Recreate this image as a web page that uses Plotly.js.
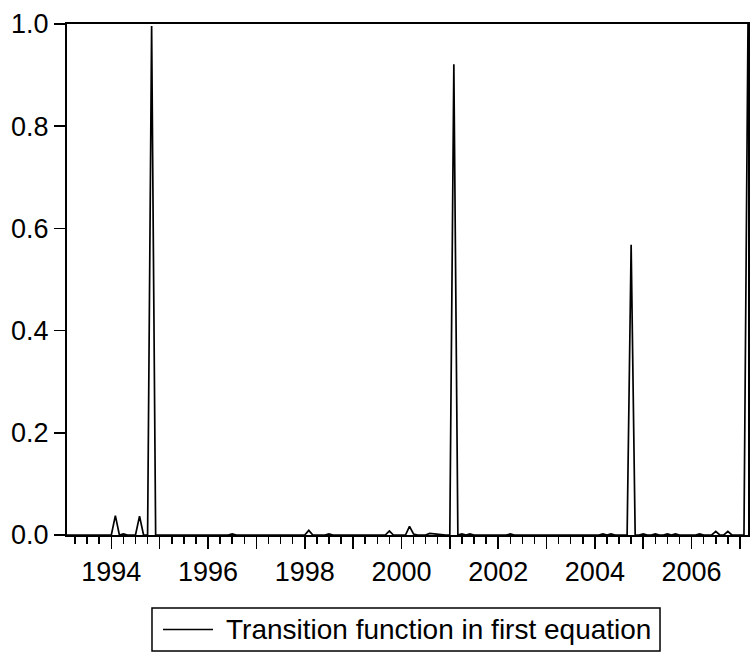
<!DOCTYPE html>
<html>
<head>
<meta charset="utf-8">
<script src="https://cdn.plot.ly/plotly-3.0.1.min.js"></script>
<style>html,body{margin:0;padding:0;background:#fff;}#chart{width:751px;height:656px;}</style>
</head>
<body>
<div id="chart"></div>
<script>
// Monthly observations, 1993M02 .. 2007M03
var startYear = 1993;
var startMonth = 2;
var seriesName = 'Transition function in first equation';
var values = [
  /*1993 M02-M12*/ 0,0,0,0,0,0,0,0,0,0,0,
  /*1994*/ 0,0.038,0,0.002,0,0,0,0.037,0,0,0.996,0,
  /*1995*/ 0,0,0,0,0,0,0,0,0,0,0,0,
  /*1996*/ 0,0,0,0,0,0,0.002,0,0,0,0,0,
  /*1997*/ 0,0,0,0,0,0,0,0,0,0.001,0,0,
  /*1998*/ 0,0.009,0,0,0,0,0.002,0,0,0,0,0,
  /*1999*/ 0,0,0,0,0,0,0,0,0,0.008,0,0,
  /*2000*/ 0,0,0.017,0.002,0,0,0,0.003,0.002,0.001,0,0,
  /*2001*/ 0,0.921,0,0.002,0,0.002,0,0,0,0,0,0,
  /*2002*/ 0.001,0,0,0.002,0,0,0,0,0,0,0,0,
  /*2003*/ 0,0,0,0,0,0,0,0,0,0,0,0,
  /*2004*/ 0,0,0.002,0,0.002,0,0,0,0,0.568,0,0,
  /*2005*/ 0.002,0,0,0.002,0,0,0.002,0,0.002,0,0,0,
  /*2006*/ 0,0,0.002,0,0,0,0.007,0,0,0.007,0,0,
  /*2007 M01-M03*/ 0,0,1.0
];
var yearTicks = [1993,1994,1995,1996,1997,1998,1999,2000,2001,2002,2003,2004,2005,2006,2007];
var yearLabels = ['','1994','','1996','','1998','','2000','','2002','','2004','','2006',''];

var x = [];
for (var i = 0; i < values.length; i++) {
  var m = (startMonth - 1) + i;
  x.push(startYear + Math.floor(m / 12) + (m % 12) / 12);
}

var fam = 'Liberation Sans, Arial, sans-serif';
var font = {family: fam, size: 27, color: '#000'};

var trace = {
  x: x, y: values, type: 'scatter', mode: 'lines',
  name: seriesName,
  line: {color: '#000', width: 1.7},
  showlegend: false
};

// legend box drawn in paper coordinates
var lg = {x0: 0.1248, x1: 0.8708, y0: -0.227, y1: -0.1429, ly: -0.1849, lx0: 0.1410, lx1: 0.2144, tx: 0.2300};

var layout = {
  width: 751, height: 656,
  margin: {l: 67, r: 3, t: 24, b: 121},
  paper_bgcolor: '#fff', plot_bgcolor: '#fff',
  font: font,
  showlegend: false,
  xaxis: {
    range: [x[0], x[x.length - 1]],
    tickmode: 'array', tickvals: yearTicks, ticktext: yearLabels,
    ticks: 'outside', ticklen: 12, tickwidth: 1.5, tickcolor: '#000',
    minor: {tickmode: 'linear', tick0: 1993, dtick: 0.25, ticks: 'outside', ticklen: 7, tickwidth: 1.5, tickcolor: '#000', showgrid: false},
    showline: true, linecolor: '#000', linewidth: 2, mirror: true,
    showgrid: false, zeroline: false,
    tickfont: font
  },
  yaxis: {
    range: [0, 1], dtick: 0.2, tick0: 0, tickformat: '.1f',
    ticks: 'outside', ticklen: 11, tickwidth: 1.5, tickcolor: '#000',
    showline: true, linecolor: '#000', linewidth: 2, mirror: true,
    showgrid: false, zeroline: false,
    tickfont: font
  },
  shapes: [
    {type: 'rect', xref: 'paper', yref: 'paper', x0: lg.x0, x1: lg.x1, y0: lg.y0, y1: lg.y1,
     line: {color: '#000', width: 1.5}, fillcolor: 'rgba(0,0,0,0)'},
    {type: 'line', xref: 'paper', yref: 'paper', x0: lg.lx0, x1: lg.lx1, y0: lg.ly, y1: lg.ly,
     line: {color: '#000', width: 1.7}}
  ],
  annotations: [
    {xref: 'paper', yref: 'paper', x: lg.tx, y: lg.ly, xanchor: 'left', yanchor: 'middle',
     text: seriesName, showarrow: false, font: {family: fam, size: 28, color: '#000'}}
  ]
};

Plotly.newPlot('chart', [trace], layout, {displayModeBar: false, staticPlot: true});
</script>
</body>
</html>
